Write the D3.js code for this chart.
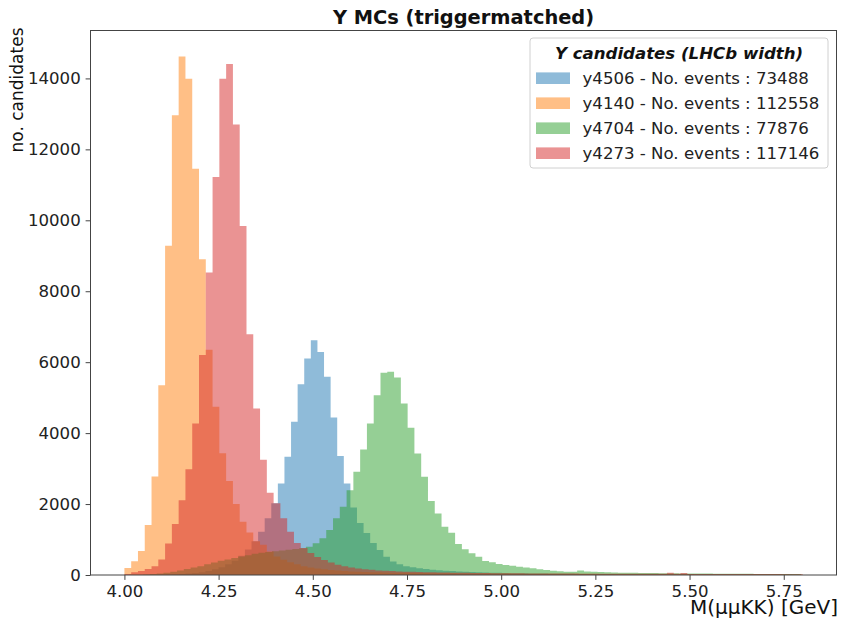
<!DOCTYPE html>
<html>
<head>
<meta charset="utf-8">
<script src="https://cdn.jsdelivr.net/npm/d3@7"></script>
<style>
  body { margin: 0; background: #fff; }
  svg { display: block; }
</style>
</head>
<body>
<div id="chart"></div>
<script>
// Legend labels, in plotting order
const seriesNames = ["y4506", "y4140", "y4704", "y4273"];
const seriesEvents = [73488, 112558, 77876, 117146];

// Histogram binning in GeV (100 bins per sample)
const binLow = [4.0398, 4.0, 3.9957, 4.0];
const binWidth = [0.0175, 0.018, 0.018, 0.018];

// Bin contents
const countsY4506 = [
    2, 4, 6, 10, 14, 20, 28, 40, 55, 80,
    115, 160, 220, 300, 400, 540, 720, 950, 1220, 1600,
    2020, 2583, 3333, 4319, 5380, 6104, 6620, 6290, 5586, 4442,
    3352, 2583, 1900, 1465, 1183, 901, 704, 516, 380, 300,
    250, 215, 190, 170, 150, 135, 120, 110, 100, 90,
    82, 76, 70, 65, 60, 56, 52, 49, 46, 43,
    41, 39, 37, 35, 33, 32, 30, 29, 28, 27,
    26, 25, 24, 23, 22, 22, 21, 20, 20, 19,
    19, 18, 18, 17, 17, 16, 16, 15, 15, 14,
    14, 14, 13, 13, 12, 12, 12, 11, 11, 10
];
const countsY4140 = [
    200, 390, 680, 1410, 2780, 5350, 9280, 12960, 14620, 13990,
    11450, 8900, 6350, 4740, 3430, 2650, 2000, 1500, 1200, 950,
    850, 660, 520, 430, 360, 300, 250, 210, 180, 160,
    140, 125, 112, 100, 92, 85, 80, 75, 70, 66,
    63, 60, 57, 55, 53, 51, 49, 48, 46, 45,
    44, 43, 42, 41, 40, 40, 39, 38, 37, 37,
    36, 36, 35, 35, 34, 34, 33, 33, 32, 32,
    31, 31, 30, 30, 29, 29, 28, 28, 27, 27,
    26, 26, 25, 25, 24, 24, 23, 23, 22, 22,
    21, 21, 20, 20, 19, 19, 18, 18, 17, 17
];
const countsY4704 = [
    2, 4, 8, 15, 25, 40, 65, 95, 130, 170,
    210, 250, 300, 350, 400, 440, 480, 520, 560, 600,
    630, 650, 670, 690, 710, 730, 752, 797, 893, 1034,
    1268, 1597, 1924, 2390, 2910, 3540, 4273, 5070, 5700, 5728,
    5569, 4837, 4150, 3428, 2770, 2085, 1737, 1362, 1192, 873,
    723, 611, 516, 394, 357, 310, 282, 260, 234, 210,
    188, 165, 141, 120, 105, 94, 94, 130, 100, 94,
    85, 75, 70, 65, 62, 60, 58, 55, 53, 50,
    48, 46, 45, 43, 42, 40, 39, 38, 36, 35,
    34, 33, 32, 31, 30, 29, 28, 27, 26, 25
];
const countsY4273 = [
    30, 75, 115, 170, 250, 440, 890, 1440, 2110, 2980,
    4270, 6200, 8530, 11220, 13990, 14410, 12700, 9840, 6790, 4695,
    3250, 2320, 2020, 1600, 1220, 900, 760, 620, 510, 420,
    350, 290, 245, 210, 180, 160, 145, 130, 120, 110,
    102, 95, 90, 85, 80, 76, 72, 69, 66, 63,
    60, 58, 56, 54, 52, 50, 49, 47, 46, 45,
    44, 43, 42, 41, 40, 40, 39, 38, 38, 37,
    37, 36, 36, 35, 35, 34, 34, 33, 33, 32,
    60, 32, 58, 31, 31, 30, 30, 29, 29, 28,
    28, 27, 27, 26, 26, 25, 25, 24, 24, 23
];
const seriesCounts = [countsY4506, countsY4140, countsY4704, countsY4273];

const xTicks = [4.00, 4.25, 4.50, 4.75, 5.00, 5.25, 5.50, 5.75];
const yTicks = [0, 2000, 4000, 6000, 8000, 10000, 12000, 14000];

// matplotlib tab10, drawn with alpha 0.5
const colors = ["#1f77b4", "#ff7f0e", "#2ca02c", "#d62728"];
const font = "'DejaVu Sans', sans-serif";
const textColor = "#222";
const spineColor = "#444";

// Figure geometry
const svgWidth = 843, svgHeight = 623;
const margin = { top: 30.5, right: 6.5, bottom: 48, left: 90.5 };
const width = svgWidth - margin.left - margin.right;
const height = svgHeight - margin.top - margin.bottom;

const svg = d3.select("#chart")
    .append("svg")
    .attr("width", svgWidth)
    .attr("height", svgHeight)
    .style("background", "#fff");

const g = svg.append("g")
    .attr("transform", `translate(${margin.left},${margin.top})`);

// X scale: data span 4.0-5.8 with 5% padding each side
const xScale = d3.scaleLinear()
    .domain([3.91, 5.89])
    .range([0, width]);

// Y scale: max count plus 5% headroom
const yMax = d3.max(seriesCounts, c => d3.max(c)) * 1.05;
const yScale = d3.scaleLinear()
    .domain([0, yMax])
    .range([height, 0]);

// Step area for each histogram
const area = d3.area()
    .x(d => xScale(d.x))
    .y0(yScale(0))
    .y1(d => yScale(d.y))
    .curve(d3.curveStepAfter);

seriesCounts.forEach(function(counts, s) {
    const pts = counts.map((c, i) => ({ x: binLow[s] + i * binWidth[s], y: c }));
    pts.push({ x: binLow[s] + counts.length * binWidth[s], y: counts[counts.length - 1] });
    g.append("path")
        .datum(pts)
        .attr("d", area)
        .attr("fill", colors[s])
        .attr("fill-opacity", 0.5)
        .attr("stroke", "none");
});

// Axes
const xAxis = d3.axisBottom(xScale)
    .tickValues(xTicks)
    .tickFormat(d3.format(".2f"))
    .tickSize(4.9)
    .tickPadding(4.9);

const xAxisGroup = g.append("g")
    .attr("transform", `translate(0,${height})`)
    .call(xAxis);

const yAxis = d3.axisLeft(yScale)
    .tickValues(yTicks)
    .tickFormat(d3.format("d"))
    .tickSize(4.9)
    .tickPadding(4.9);

const yAxisGroup = g.append("g")
    .call(yAxis);

[xAxisGroup, yAxisGroup].forEach(function(ax) {
    ax.select(".domain").remove();
    ax.selectAll("line").attr("stroke", spineColor).attr("stroke-width", 1);
    ax.selectAll("text")
        .attr("font-size", "16.6px")
        .attr("font-family", font)
        .attr("fill", textColor);
});

// Frame (all four spines)
g.append("rect")
    .attr("x", 0)
    .attr("y", 0)
    .attr("width", width)
    .attr("height", height)
    .attr("fill", "none")
    .attr("stroke", spineColor)
    .attr("stroke-width", 1);

// Title
svg.append("text")
    .attr("x", margin.left + width / 2)
    .attr("y", 24)
    .attr("text-anchor", "middle")
    .attr("font-size", "19.4px")
    .attr("font-weight", "bold")
    .attr("font-family", font)
    .attr("fill", "#111")
    .text("Y MCs (triggermatched)");

// Axis labels, aligned to the top / right of the axes
svg.append("text")
    .attr("transform", `translate(23.3,${margin.top - 3}) rotate(-90)`)
    .attr("text-anchor", "end")
    .attr("font-size", "17px")
    .attr("font-family", font)
    .attr("fill", "#111")
    .text("no. candidates");

svg.append("text")
    .attr("x", margin.left + width + 1.5)
    .attr("y", 614)
    .attr("text-anchor", "end")
    .attr("font-size", "20px")
    .attr("font-family", font)
    .attr("fill", "#111")
    .text("M(μμKK) [GeV]");

// Legend
const legend = svg.append("g")
    .attr("transform", "translate(530,38)");

legend.append("rect")
    .attr("width", 298)
    .attr("height", 130)
    .attr("rx", 3)
    .attr("fill", "#fff")
    .attr("fill-opacity", 0.8)
    .attr("stroke", "#d0d0d0")
    .attr("stroke-width", 1);

legend.append("text")
    .attr("x", 149)
    .attr("y", 21)
    .attr("text-anchor", "middle")
    .attr("font-size", "16.6px")
    .attr("font-weight", "bold")
    .attr("font-style", "italic")
    .attr("font-family", font)
    .attr("fill", "#111")
    .text("Y candidates (LHCb width)");

const legendItems = legend.selectAll(".legend-item")
    .data(seriesNames)
    .enter()
    .append("g")
    .attr("class", "legend-item")
    .attr("transform", (d, i) => `translate(0,${40.2 + i * 25})`);

legendItems.append("rect")
    .attr("x", 6)
    .attr("y", -5.8)
    .attr("width", 34)
    .attr("height", 11.6)
    .attr("fill", (d, i) => colors[i])
    .attr("fill-opacity", 0.5);

legendItems.append("text")
    .attr("x", 52.5)
    .attr("y", 6)
    .attr("font-size", "16.6px")
    .attr("font-family", font)
    .attr("fill", textColor)
    .text((d, i) => `${d} - No. events : ${seriesEvents[i]}`);
</script>
</body>
</html>
